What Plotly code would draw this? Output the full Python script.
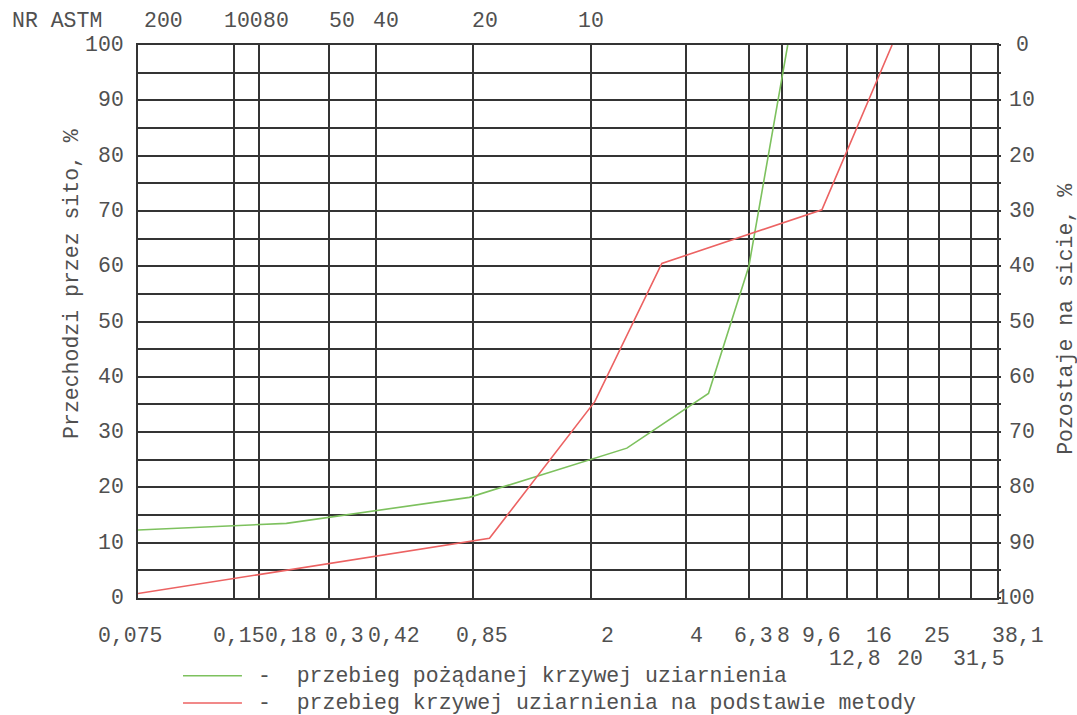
import numpy as np
import plotly.graph_objects as go

# ---------------- data ----------------
sieve_sizes = [0.075, 0.15, 0.18, 0.3, 0.42, 0.85, 2, 4, 6.3, 8, 9.6, 12.8, 16, 20, 25, 31.5, 38.1]
sieve_labels = ["0,075", "0,15", "0,18", "0,3", "0,42", "0,85", "2", "4", "6,3", "8", "9,6",
                "12,8", "16", "20", "25", "31,5", "38,1"]
astm_sizes = [0.075, 0.15, 0.18, 0.3, 0.42, 0.85, 2]
astm_numbers = ["200", "100", "80", "50", "40", "20", "10"]

pass_ticks = [0, 10, 20, 30, 40, 50, 60, 70, 80, 90, 100]
retained_ticks = [100 - v for v in pass_ticks]

green_x = [0.075, 0.22, 0.83, 2.6, 4.7, 6.3, 8.35]
green_y = [12.3, 13.5, 18.2, 27.1, 37.0, 60.0, 100.0]
red_x = [0.075, 0.96, 2.06, 3.35, 10.7, 17.8]
red_y = [0.8, 10.8, 35.5, 60.5, 70.2, 100.0]

legend_texts = ["-  przebieg pożądanej krzywej uziarnienia",
                "-  przebieg krzywej uziarnienia na podstawie metody"]

# ---------------- style ----------------
FONT = "Courier New, Liberation Mono, monospace"
TXT = "#505050"
FS = 21.5
GRID = "#343434"
GREEN = "#7dc15e"
RED = "#ec6262"

# label placement offsets (pixels) – styling only
sieve_row = [0, 0, 0, 0, 0, 0, 0, 0, 0, 0, 0, 1, 0, 1, 0, 1, 0]
sieve_shift = [-8, 5, 32, 15, 18, 9, 17, 10, 5, 2, 15, 8, 2, 2, -2, 8, 21]
astm_shift = [25, 10, 17, 13, 10, 12, 0]

fig = go.Figure()
fig.add_trace(go.Scatter(x=green_x, y=green_y, mode="lines",
                         line=dict(color=GREEN, width=1.6), showlegend=False, hoverinfo="skip"))
fig.add_trace(go.Scatter(x=red_x, y=red_y, mode="lines",
                         line=dict(color=RED, width=1.6), showlegend=False, hoverinfo="skip"))
# invisible trace to activate the right axis
fig.add_trace(go.Scatter(x=[sieve_sizes[0]], y=[0], yaxis="y2", mode="markers",
                         marker=dict(opacity=0), showlegend=False, hoverinfo="skip"))

ann = []
# bottom sieve labels
for v, t, row, sh in zip(sieve_sizes, sieve_labels, sieve_row, sieve_shift):
    ann.append(dict(x=np.log10(v), xref="x", y=0, yref="paper", text=t, showarrow=False,
                    xanchor="center", yanchor="middle", xshift=sh, yshift=-38 if row == 0 else -61,
                    font=dict(family=FONT, size=FS, color=TXT)))
# top ASTM numbers
for v, t, sh in zip(astm_sizes, astm_numbers, astm_shift):
    ann.append(dict(x=np.log10(v), xref="x", y=1, yref="paper", text=t, showarrow=False,
                    xanchor="center", yanchor="middle", xshift=sh, yshift=24,
                    font=dict(family=FONT, size=FS, color=TXT)))
ann.append(dict(x=0, xref="paper", y=1, yref="paper", text="NR ASTM", showarrow=False,
                xanchor="center", yanchor="middle", xshift=-81, yshift=24,
                font=dict(family=FONT, size=FS, color=TXT)))
# left / right value labels
for p, r in zip(pass_ticks, retained_ticks):
    ann.append(dict(x=0, xref="paper", y=p, yref="y", text=str(p), showarrow=False,
                    xanchor="right", yanchor="middle", xshift=-12,
                    font=dict(family=FONT, size=FS, color=TXT)))
    ann.append(dict(x=1, xref="paper", y=p, yref="y", text=str(r), showarrow=False,
                    xanchor="center", yanchor="middle", xshift=25 if r != 100 else 18,
                    font=dict(family=FONT, size=FS, color=TXT)))
# axis titles
ann.append(dict(x=0, xref="paper", y=0.568, yref="paper", text="Przechodzi przez sito, %",
                showarrow=False, textangle=-90, xanchor="center", yanchor="middle", xshift=-66,
                font=dict(family=FONT, size=FS, color=TXT)))
ann.append(dict(x=1, xref="paper", y=0.503, yref="paper", text="Pozostaje na sicie, %",
                showarrow=False, textangle=-90, xanchor="center", yanchor="middle", xshift=69,
                font=dict(family=FONT, size=FS, color=TXT)))
# legend
legend_y = [-0.1405, -0.1900]
shapes = []
for ly, txt, col in zip(legend_y, legend_texts, [GREEN, RED]):
    shapes.append(dict(type="line", xref="paper", yref="paper", x0=0.0524, x1=0.121,
                       y0=ly, y1=ly, line=dict(color=col, width=1.6)))
    ann.append(dict(x=0.1374, xref="paper", y=ly, yref="paper", text=txt, showarrow=False,
                    xanchor="left", yanchor="middle",
                    font=dict(family=FONT, size=FS, color=TXT)))

fig.update_layout(
    width=1077, height=715, autosize=False,
    margin=dict(l=138, r=80, t=45, b=117),
    paper_bgcolor="white", plot_bgcolor="white",
    annotations=ann, shapes=shapes,
    xaxis=dict(type="log", range=[np.log10(sieve_sizes[0]), np.log10(sieve_sizes[-1])],
               tickvals=sieve_sizes, showticklabels=False, ticks="",
               showgrid=True, gridcolor=GRID, gridwidth=1.5,
               showline=True, linecolor=GRID, linewidth=1.5, mirror=True, zeroline=False),
    yaxis=dict(range=[0, 100], tickvals=pass_ticks, showticklabels=False, ticks="",
               showgrid=True, gridcolor=GRID, gridwidth=1.5,
               minor=dict(dtick=5, showgrid=True, gridcolor=GRID, gridwidth=1.5),
               showline=True, linecolor=GRID, linewidth=1.5, mirror=True, zeroline=False),
    yaxis2=dict(overlaying="y", side="right", range=[0, 100], dtick=5, ticks="outside",
                ticklen=3, tickcolor=GRID, tickwidth=1.5, showticklabels=False,
                showgrid=False, zeroline=False),
)

fig.write_html("out.html", config={"displayModeBar": False},
               post_script="document.body.style.margin='0';document.body.style.overflow='hidden';")
